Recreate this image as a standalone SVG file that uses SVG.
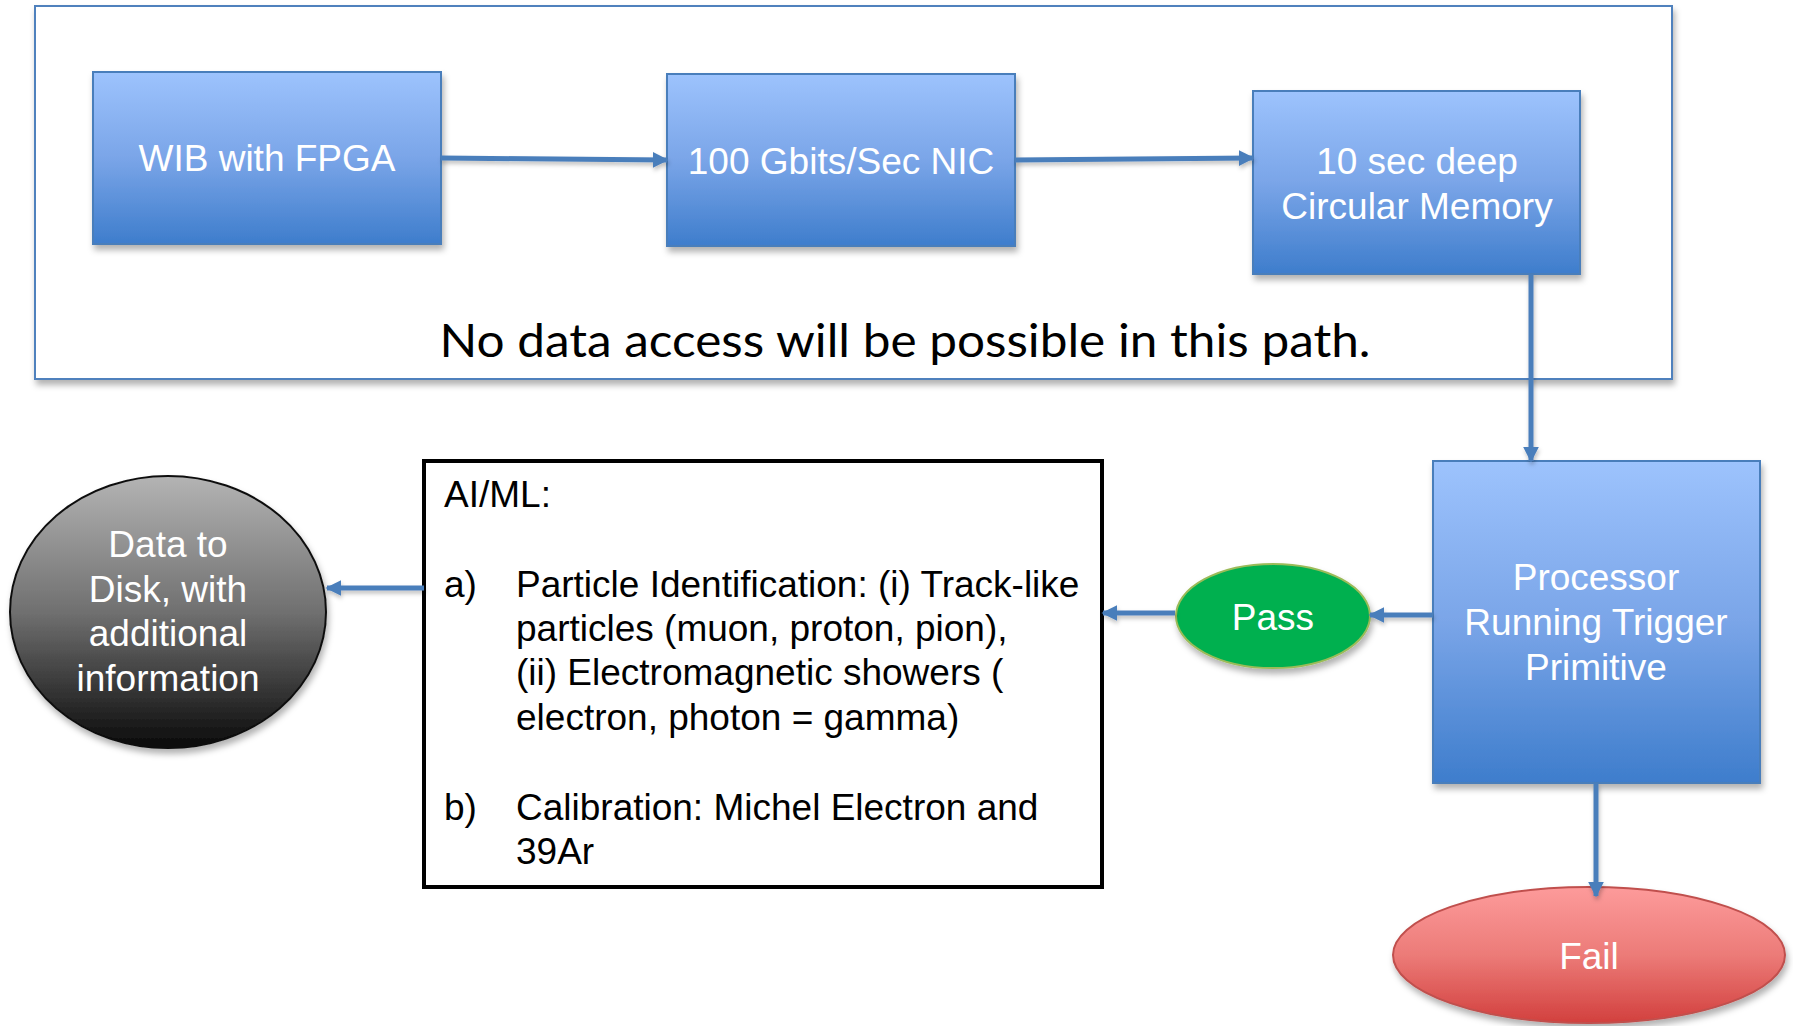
<svg xmlns="http://www.w3.org/2000/svg" width="1793" height="1026" viewBox="0 0 1793 1026">
<defs>
<linearGradient id="gBlue" x1="0" y1="0" x2="0" y2="1">
<stop offset="0" stop-color="#9dc3fd"/>
<stop offset="0.5" stop-color="#7aa5e8"/>
<stop offset="1" stop-color="#3e7dcc"/>
</linearGradient>
<linearGradient id="gGray" x1="0" y1="0" x2="0" y2="1">
<stop offset="0" stop-color="#b4b4b4"/>
<stop offset="0.5" stop-color="#707070"/>
<stop offset="1" stop-color="#0a0a0a"/>
</linearGradient>
<linearGradient id="gRed" x1="0" y1="0" x2="0" y2="1">
<stop offset="0" stop-color="#fd9b9b"/>
<stop offset="0.5" stop-color="#ec7b78"/>
<stop offset="1" stop-color="#d2403e"/>
</linearGradient>
<filter id="sh" x="-10%" y="-10%" width="125%" height="130%">
<feDropShadow dx="2" dy="5" stdDeviation="3" flood-color="#000" flood-opacity="0.3"/>
</filter>
<filter id="lsh" x="-20%" y="-50%" width="140%" height="200%">
<feDropShadow dx="1" dy="3" stdDeviation="2" flood-color="#000" flood-opacity="0.25"/>
</filter>
<marker id="ah" viewBox="0 0 10 10" refX="9" refY="5" markerWidth="3.2" markerHeight="3.2" orient="auto" markerUnits="strokeWidth">
<path d="M0,0 L10,5 L0,10 z" fill="#4a7ebb"/>
</marker>
<style>
.blue{fill:url(#gBlue);stroke:#4a7ebb;stroke-width:2;filter:url(#sh)}
.wt{font-family:"Liberation Sans",Arial,sans-serif;font-size:37px;fill:#fff;text-anchor:middle}
.bt{font-family:"Liberation Sans",Arial,sans-serif;font-size:37px;fill:#000}
.con{stroke:#4a7ebb;stroke-width:5;fill:none;marker-end:url(#ah)}
</style>
</defs>
<rect x="0" y="0" width="1793" height="1026" fill="#fff"/>

<g id="outer">
<rect x="35" y="6" width="1637" height="373" fill="#fff" stroke="#4f81bd" stroke-width="2" filter="url(#sh)"/>
<text x="905" y="357" font-family="Lato,'Open Sans',sans-serif" font-size="46" fill="#000" text-anchor="middle" textLength="931" lengthAdjust="spacingAndGlyphs">No data access will be possible in this path.</text>
</g>

<g id="wib">
<rect class="blue" x="93" y="72" width="348" height="172"/>
<text class="wt" x="267" y="171">WIB with FPGA</text>
</g>

<g id="nic">
<rect class="blue" x="667" y="74" width="348" height="172"/>
<text class="wt" x="841" y="174">100 Gbits/Sec NIC</text>
</g>

<g id="memory">
<rect class="blue" x="1253" y="91" width="327" height="183"/>
<text class="wt" x="1417" y="174">10 sec deep</text>
<text class="wt" x="1417" y="219">Circular Memory</text>
</g>

<g id="processor">
<rect class="blue" x="1433" y="461" width="327" height="322"/>
<text class="wt" x="1596" y="590">Processor</text>
<text class="wt" x="1596" y="635">Running Trigger</text>
<text class="wt" x="1596" y="680">Primitive</text>
</g>

<g id="pass">
<ellipse cx="1273" cy="616" rx="97" ry="52" fill="#00b050" stroke="#9bbb59" stroke-width="2" filter="url(#sh)"/>
<text class="wt" x="1273" y="630">Pass</text>
</g>

<g id="fail">
<ellipse cx="1589" cy="955" rx="196" ry="68" fill="url(#gRed)" stroke="#c0504d" stroke-width="2" filter="url(#sh)"/>
<text class="wt" x="1589" y="969">Fail</text>
</g>

<g id="disk">
<ellipse cx="168" cy="612" rx="158" ry="136" fill="url(#gGray)" stroke="#111" stroke-width="2" filter="url(#sh)"/>
<text class="wt" x="168" y="557">Data to</text>
<text class="wt" x="168" y="602">Disk, with</text>
<text class="wt" x="168" y="646">additional</text>
<text class="wt" x="168" y="691">information</text>
</g>

<g id="aiml">
<rect x="424" y="461" width="678" height="426" fill="#fff" stroke="#000" stroke-width="4"/>
<text class="bt" x="444" y="507">AI/ML:</text>
<text class="bt" x="444" y="597">a)</text>
<text class="bt" x="516" y="597">Particle Identification: (i) Track-like</text>
<text class="bt" x="516" y="641">particles (muon, proton, pion),</text>
<text class="bt" x="516" y="685">(ii) Electromagnetic showers (</text>
<text class="bt" x="516" y="730">electron, photon = gamma)</text>
<text class="bt" x="444" y="820">b)</text>
<text class="bt" x="516" y="820">Calibration: Michel Electron and</text>
<text class="bt" x="516" y="864">39Ar</text>
</g>

<g id="connectors" filter="url(#lsh)">
<path class="con" d="M441,158 L667,160"/>
<path class="con" d="M1015,160 L1253,158"/>
<path class="con" d="M1531,274 L1531,461"/>
<path class="con" d="M1433,615 L1370,615"/>
<path class="con" d="M1175,613 L1103,613"/>
<path class="con" d="M424,588 L327,588"/>
<path class="con" d="M1596,783 L1596,896"/>
</g>
</svg>
